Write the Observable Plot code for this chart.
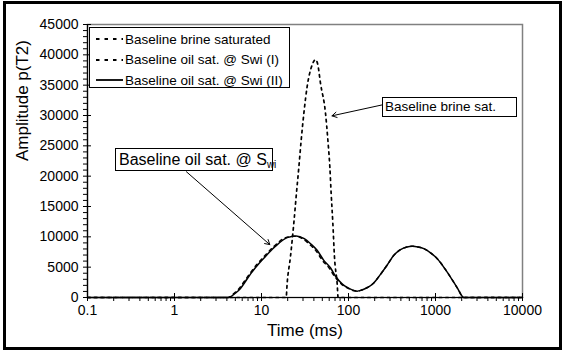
<!DOCTYPE html>
<html><head><meta charset="utf-8">
<script src="https://cdn.jsdelivr.net/npm/d3@7"></script>
<script src="https://cdn.jsdelivr.net/npm/@observablehq/plot@0.6"></script>
<style>
body{margin:0;background:#fff;}
#wrap{position:relative;width:563px;height:351px;overflow:hidden;font-family:"Liberation Sans",Arial,sans-serif;color:#000;background:#fff;}
#border{position:absolute;left:3px;top:1px;width:559px;height:349px;border:3px solid #000;box-sizing:border-box;pointer-events:none;}
.box{position:absolute;background:#fff;border:1px solid #000;box-sizing:border-box;white-space:nowrap;color:#000;}
.box sub{font-size:10px;vertical-align:-3px;line-height:0;}
#legend .row{position:absolute;left:0;height:20px;display:flex;align-items:center;font-size:13.5px;}
#legend svg{margin-left:6px;margin-right:2px;}
</style></head><body>
<div id="wrap"><div id="chart"></div><div id="border"></div></div>
<script>
// ---- data ----
const seriesNames = ["Baseline brine saturated", "Baseline oil sat. @ Swi (I)", "Baseline oil sat. @ Swi (II)"];
const seriesDash = ["2.5,4", "3,4", null];

const brineT = [0.1, 19.2, 19.7, 21.5, 23.5, 25.2, 26.9, 28.6, 30.7, 33.5, 37.5, 41.8, 44.5, 47.6, 54.4, 57.9, 61.0, 63.2, 66.1, 69.0, 74.1, 76.0, 10000];
const brineA = [0, 0, 2260, 6670, 12190, 17150, 21560, 25970, 30390, 34800, 38000, 39200, 38300, 35350, 30390, 25970, 21560, 17150, 12190, 6670, 2260, 0, 0];

const oilIT = [0.1, 4.1, 4.85, 5.5, 6.3, 7.3, 9.0, 11.1, 14.0, 19.0, 24.3, 30, 35.5, 42.3, 50.5, 60, 69, 83, 98, 113, 126, 140, 165, 195, 214, 233, 280, 332, 396, 470, 540, 630, 735, 870, 1047, 1363, 1778, 2113, 10000];
const oilIA = [0, 0, 700, 1440, 2600, 3900, 5570, 7000, 8460, 9870, 10100, 9650, 8780, 7700, 6050, 4850, 3500, 2200, 1550, 1150, 1050, 1200, 1650, 2400, 3100, 3800, 5400, 6950, 7890, 8330, 8440, 8330, 8050, 7400, 6400, 4190, 1600, 0, 0];

const oilIIT = [0.1, 4.2, 5.0, 5.7, 6.5, 7.5, 9.3, 11.5, 14.5, 19.7, 25, 31, 36.6, 43.6, 52, 62, 71, 85, 100, 115, 126, 140, 165, 195, 214, 233, 280, 332, 396, 470, 540, 630, 735, 870, 1047, 1363, 1778, 2113, 10000];
const oilIIA = [0, 0, 700, 1440, 2600, 3900, 5570, 7000, 8460, 9870, 10150, 9700, 8870, 7780, 6120, 4900, 3500, 2200, 1550, 1150, 1050, 1200, 1650, 2400, 3100, 3800, 5400, 6950, 7890, 8330, 8440, 8330, 8050, 7400, 6400, 4190, 1600, 0, 0];

const xTicks = [0.1, 1, 10, 100, 1000, 10000];
const xTickLabels = ["0.1", "1", "10", "100", "1000", "10000"];
const yTicks = [0, 5000, 10000, 15000, 20000, 25000, 30000, 35000, 40000, 45000];
const xTitle = "Time (ms)";
const yTitle = "Amplitude p(T2)";

const annoBrineText = "Baseline brine sat.";
const annoBrineArrow = {x1: 246, y1: 31760, x2: 64.6, y2: 29945};
const annoOilText = "Baseline oil sat. @ S";
const annoOilSub = "wi";
const annoOilArrow = {x1: 1.37, y1: 20730, x2: 12.46, y2: 8719};

// ---- build ----
const rows = [];
brineT.forEach((t, i) => rows.push({s: 0, t, a: brineA[i]}));
oilIT.forEach((t, i) => rows.push({s: 1, t, a: oilIA[i]}));
oilIIT.forEach((t, i) => rows.push({s: 2, t, a: oilIIA[i]}));

const xMinor = [];
for (let e = -1; e < 4; e++) for (let m = 2; m <= 9; m++) xMinor.push(m * Math.pow(10, e));
const yMinor = d3.range(0, 45001, 1000).filter(v => v % 5000 !== 0);

const chart = Plot.plot({
  width: 563, height: 351,
  marginLeft: 87, marginRight: 41, marginTop: 24, marginBottom: 54,
  style: {fontFamily: "Liberation Sans, Arial, sans-serif", fontSize: "14px", background: "transparent", color: "#000", overflow: "visible"},
  x: {type: "log", domain: [0.1, 10000]},
  y: {domain: [0, 45000]},
  marks: [
    Plot.frame({stroke: "#808080", strokeWidth: 1.5}),
    Plot.axisY({ticks: yMinor, tickSize: 4, tickFormat: () => "", label: null}),
    Plot.axisY({ticks: yTicks, tickSize: 8, dx: 4, tickFormat: () => "", label: null}),
    Plot.axisY({ticks: yTicks, tickSize: 0, tickPadding: 9, tickFormat: d => String(d), label: null}),
    Plot.axisX({ticks: xMinor, tickSize: 4, tickFormat: () => "", label: null}),
    Plot.axisX({ticks: xTicks, tickSize: 8, dy: -4, tickFormat: () => "", label: null}),
    Plot.axisX({ticks: xTicks, tickSize: 0, tickPadding: 8, tickFormat: d => xTickLabels[xTicks.indexOf(d)], label: null}),
    Plot.ruleY([0], {stroke: "#000", strokeWidth: 1.2}),
    Plot.ruleX([0.1], {stroke: "#000", strokeWidth: 1.2}),
    Plot.line(rows.filter(d => d.s === 0), {x: "t", y: "a", stroke: "#000", strokeWidth: 1.7, strokeDasharray: seriesDash[0], curve: "monotone-x"}),
    Plot.line(rows.filter(d => d.s === 1), {x: "t", y: "a", stroke: "#000", strokeWidth: 1.5, strokeDasharray: seriesDash[1], curve: "monotone-x"}),
    Plot.line(rows.filter(d => d.s === 2), {x: "t", y: "a", stroke: "#000", strokeWidth: 1.5, curve: "monotone-x"}),
    Plot.arrow([annoBrineArrow, annoOilArrow], {x1: "x1", y1: "y1", x2: "x2", y2: "y2", bend: 0, headLength: 8, strokeWidth: 1, stroke: "#000"}),
    Plot.text([xTitle], {text: d => d, frameAnchor: "bottom", dy: 38, fontSize: 17}),
    Plot.text([yTitle], {text: d => d, frameAnchor: "left", dx: -65, rotate: -90, fontSize: 17})
  ]
});
document.getElementById("chart").appendChild(chart);

const wrap = document.getElementById("wrap");
// legend
const legend = document.createElement("div");
legend.id = "legend";
legend.className = "box";
Object.assign(legend.style, {left: "89px", top: "27px", width: "201px", height: "61px"});
seriesNames.forEach((name, i) => {
  const row = document.createElement("div");
  row.className = "row";
  row.style.top = (1 + i * 20.5) + "px";
  const dash = i === 2 ? "" : `stroke-dasharray="3.5,5"`;
  row.innerHTML = `<svg width="27" height="6"><line x1="0" y1="3" x2="27" y2="3" stroke="#000" stroke-width="1.8" ${dash}/></svg><span>${name}</span>`;
  legend.appendChild(row);
});
wrap.appendChild(legend);

// annotation boxes
const oilBox = document.createElement("div");
oilBox.className = "box";
Object.assign(oilBox.style, {left: "115px", top: "148px", width: "158px", height: "23px", fontSize: "16px", lineHeight: "21px", paddingLeft: "3px"});
oilBox.innerHTML = annoOilText + "<sub>" + annoOilSub + "</sub>";
wrap.appendChild(oilBox);

const brineBox = document.createElement("div");
brineBox.className = "box";
Object.assign(brineBox.style, {left: "382px", top: "97px", width: "135px", height: "20px", fontSize: "13.5px", lineHeight: "18px", paddingLeft: "2px"});
brineBox.textContent = annoBrineText;
wrap.appendChild(brineBox);
</script>
</body></html>
